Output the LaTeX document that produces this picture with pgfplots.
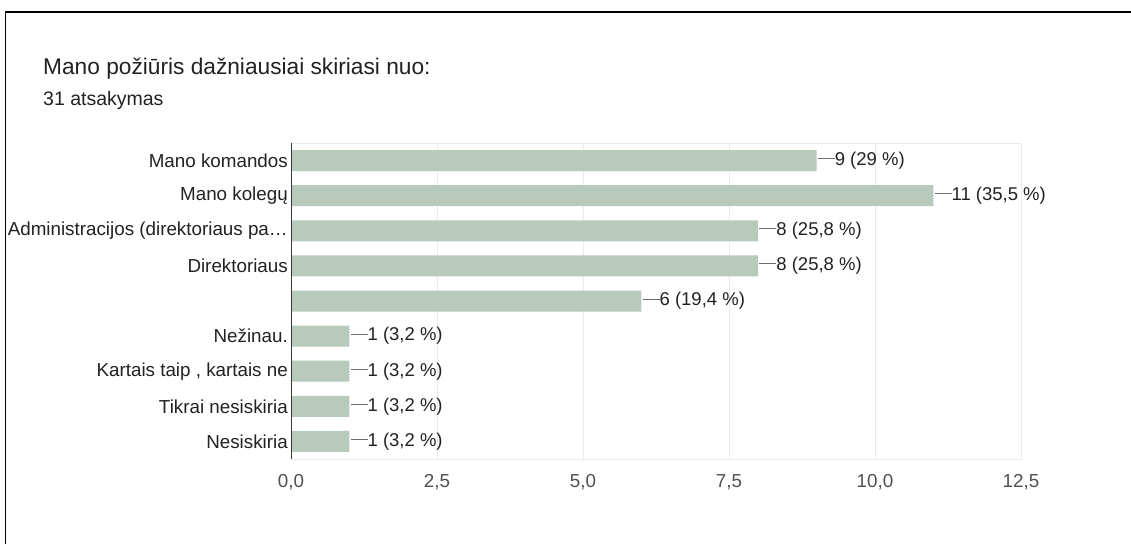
\documentclass[border=0pt]{standalone}
\usepackage{fontspec}
\setmainfont{Liberation Sans}
\usepackage{pgfplots}
\pgfplotsset{compat=1.18}
\definecolor{barfill}{RGB}{184,202,188}
\definecolor{gridgray}{RGB}{235,235,235}
\definecolor{txt}{RGB}{34,34,34}
\definecolor{ticktxt}{RGB}{80,80,80}
\definecolor{linegray}{RGB}{110,110,110}
\newcommand\connector{\textcolor{linegray}{\rule[6.3pt]{17pt}{0.9pt}}}

\begin{document}
\begin{tikzpicture}
\useasboundingbox (0,0) rectangle (1131pt,544pt);
\fill[white] (0,0) rectangle (1131pt,544pt);
\draw[line width=1.6pt] (5.5pt,0) -- (5.5pt,532pt) -- (1131pt,532pt);
\node[anchor=base west, inner sep=0pt, font=\fontsize{22.7}{27}\selectfont, text=txt] at (43pt,469pt) {Mano požiūris dažniausiai skiriasi nuo:};
\node[anchor=base west, inner sep=0pt, font=\fontsize{19.5}{23}\selectfont, text=txt] at (43pt,438pt) {31 atsakymas};
\begin{axis}[
    at={(291pt,85pt)}, anchor=south west,
    scale only axis, width=730pt, height=316pt,
    xbar, bar width=21pt,
    xmin=0, xmax=12.5, ymin=-0.5, ymax=8.5, y dir=reverse,
    xtick={0,2.5,5,7.5,10,12.5},
    xticklabels={{0,0},{2,5},{5,0},{7,5},{10,0},{12,5}},
    ytick={0,1,2,3,4,5,6,7,8},
    yticklabels={Mano komandos, Mano kolegų, Administracijos (direktoriaus pa…, Direktoriaus, {}, Nežinau., {Kartais taip , kartais ne}, Tikrai nesiskiria, Nesiskiria},
    major tick length=0pt,
    xmajorgrids, grid style={gridgray, line width=1pt},
    axis line style={gridgray, line width=1pt},
    tick label style={font=\fontsize{18.8}{22}\selectfont},
    yticklabel style={text=txt, inner sep=0pt, xshift=-3pt},
    xticklabel style={text=ticktxt, inner sep=0pt, yshift=-15pt},
    point meta=explicit symbolic,
    nodes near coords={\connector\pgfplotspointmeta},
    every node near coord/.append style={anchor=west, inner sep=0pt, xshift=1pt, font=\fontsize{18.5}{22}\selectfont, text=txt},
]
\addplot[fill=barfill, draw=none] coordinates {
    (9,0) [9 (29 \%)]
    (11,1) [11 (35,5 \%)]
    (8,2) [8 (25,8 \%)]
    (8,3) [8 (25,8 \%)]
    (6,4) [6 (19,4 \%)]
    (1,5) [1 (3,2 \%)]
    (1,6) [1 (3,2 \%)]
    (1,7) [1 (3,2 \%)]
    (1,8) [1 (3,2 \%)]
};
\draw[color=txt!90, line width=1.5pt] (rel axis cs:0,0) -- (rel axis cs:0,1);
\end{axis}
\end{tikzpicture}
\end{document}
